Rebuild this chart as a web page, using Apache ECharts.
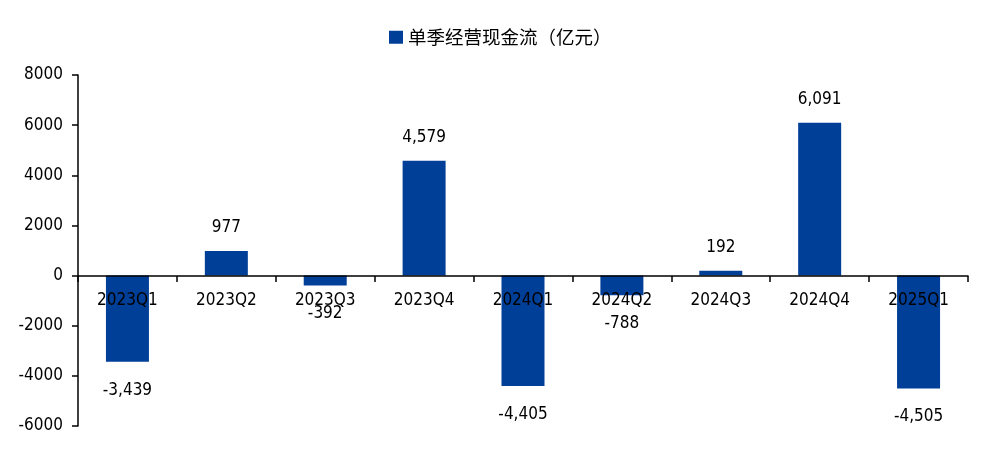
<!DOCTYPE html>
<html><head><meta charset="utf-8">
<script src="https://cdn.jsdelivr.net/npm/echarts@6/dist/echarts.min.js"></script>
<style>html,body{margin:0;padding:0;background:#fff}#c{width:996px;height:456px}</style>
</head><body><div id="c"></div>
<script>
const categories = ['2023Q1','2023Q2','2023Q3','2023Q4','2024Q1','2024Q2','2024Q3','2024Q4','2025Q1'];
const cashFlow = [-3439, 977, -392, 4579, -4405, -788, 192, 6091, -4505];
const seriesName = '单季经营现金流（亿元）';
const FONT = '"DejaVu Sans Condensed", "DejaVu Sans", sans-serif';
const chart = echarts.init(document.getElementById('c'));
chart.setOption({
  animation: false,
  backgroundColor: '#fff',
  legend: {
    left: 384, top: 23,
    itemWidth: 14, itemHeight: 13, itemGap: 7,
    icon: 'rect',
    textStyle: { fontSize: 18.5, color: '#000', fontFamily: '"Noto Sans CJK SC", sans-serif' },
    data: [seriesName]
  },
  grid: { left: 78, right: 28, top: 75, bottom: 30, containLabel: false },
  xAxis: {
    type: 'category',
    data: categories,
    z: 5,
    position: 'bottom',
    offset: -150,
    axisLine: { onZero: false, lineStyle: { color: '#000', width: 1.5 } },
    axisTick: { show: true, length: 6, inside: false, alignWithLabel: false, lineStyle: { color: '#000', width: 1.5 } },
    axisLabel: { margin: 16, fontSize: 17, color: '#000', fontFamily: FONT, interval: 0 },
    splitLine: { show: false }
  },
  yAxis: {
    type: 'value',
    min: -6000, max: 8000, interval: 2000,
    axisLine: { show: true, lineStyle: { color: '#000', width: 1.5 } },
    axisTick: { show: true, length: 6, lineStyle: { color: '#000', width: 1.5 } },
    axisLabel: { margin: 15, fontSize: 17, color: '#000', fontFamily: FONT, formatter: v => String(v) },
    splitLine: { show: false }
  },
  series: [{
    name: seriesName,
    type: 'bar',
    data: cashFlow.map(v => v < 0 ? { value: v, label: { position: 'bottom', distance: 20 } } : v),
    barWidth: 43,
    itemStyle: { color: '#003F97' },
    label: {
      show: true,
      fontSize: 17, color: '#000', fontFamily: FONT,
      distance: 15,
      formatter: p => p.value.toLocaleString('en-US'),
      position: 'top'
    }
  }]
});
</script></body></html>
